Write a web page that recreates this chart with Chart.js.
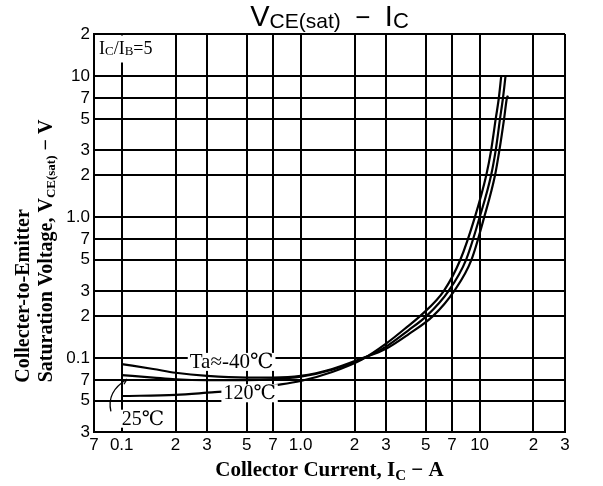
<!DOCTYPE html>
<html><head><meta charset="utf-8">
<script src="https://cdn.jsdelivr.net/npm/chart.js@4/dist/chart.umd.min.js"></script>
<style>html,body{margin:0;padding:0;background:#fff}canvas{display:block}</style>
</head><body>
<canvas id="c" width="603" height="486"></canvas>
<script>
// Tick values and labels
const xTickValues = [0.07,0.1,0.2,0.3,0.5,0.7,1,2,3,5,7,10,20,30];
const xTickLabels = ['7','0.1','2','3','5','7','1.0','2','3','5','7','10','2','3'];
const yTickValues = [0.03,0.05,0.07,0.1,0.2,0.3,0.5,0.7,1,2,3,5,7,10,20];
const yTickLabels = ['3','5','7','0.1','2','3','5','7','1.0','2','3','5','7','10','2'];

// Series: Ta = -40 C
const currentM40 = [0.1,0.15,0.2,0.3,0.5,0.7,1.0,1.5,2.2,3,4,5.5,7.2,9.0,10.6,12.2,12.9,13.7,14.2,14.4];
const vceM40     = [0.091,0.084,0.079,0.075,0.073,0.073,0.075,0.084,0.1,0.117,0.148,0.2,0.3,0.5,1.0,2,3,5,7,7.3];
// Series: Ta = 25 C
const current25 = [0.1,0.15,0.2,0.3,0.5,0.7,1.0,1.5,2.2,3,4,5.06,6.7,8.4,10,11.6,12.3,13.0,13.5,13.95];
const vce25     = [0.076,0.073,0.071,0.070,0.070,0.071,0.074,0.083,0.099,0.121,0.158,0.2,0.3,0.5,1.0,2,3,5,7,10];
// Series: Ta = 120 C
const current120 = [0.1,0.2,0.3,0.5,0.7,1.0,1.5,2.2,3,4,4.66,6.3,7.8,9.4,10.9,11.6,12.3,12.8,13.2];
const vce120     = [0.054,0.055,0.057,0.060,0.064,0.069,0.080,0.098,0.127,0.17,0.2,0.3,0.5,1.0,2,3,5,7,10];

const toXY = (xs, ys) => xs.map((x, i) => ({x, y: ys[i]}));

const serifB = 'bold {s}px "Liberation Serif", "DejaVu Serif", serif';
const sans = '{s}px "Liberation Sans", Arial, sans-serif';
const serif = '{s}px "Liberation Serif", "DejaVu Serif", serif';
const F = (tpl, s) => tpl.replace('{s}', s);

function richWidth(ctx, parts) {
  let w = 0;
  for (const p of parts) { ctx.font = p.f; w += ctx.measureText(p.t).width; }
  return w;
}
function drawRich(ctx, parts, x, y, align) {
  const w = richWidth(ctx, parts);
  let cx = align === 'center' ? x - w / 2 : (align === 'right' ? x - w : x);
  ctx.textAlign = 'left';
  for (const p of parts) {
    ctx.font = p.f;
    ctx.fillText(p.t, cx, y + (p.dy || 0));
    cx += ctx.measureText(p.t).width;
  }
  return w;
}

const annot = {
  id: 'annot',
  afterDraw(chart) {
    const ctx = chart.ctx, xs = chart.scales.x, ys = chart.scales.y, a = chart.chartArea;
    const X = v => xs.getPixelForValue(v), Y = v => ys.getPixelForValue(v);
    ctx.save();
    ctx.fillStyle = '#000';
    ctx.textBaseline = 'alphabetic';

    // Title
    drawRich(ctx, [
      {t: 'V', f: F(sans, 29)},
      {t: 'CE(sat)', f: F(sans, 21), dy: 2},
      {t: '  \u2212  ', f: F(sans, 26)},
      {t: 'I', f: F(sans, 29)},
      {t: 'C', f: F(sans, 22), dy: 2}
    ], (a.left + a.right) / 2, 26, 'center');

    // X axis title
    drawRich(ctx, [
      {t: 'Collector Current, I', f: F(serifB, 21)},
      {t: 'C', f: F(serifB, 15), dy: 4},
      {t: ' \u2212 A', f: F(serifB, 21)}
    ], (a.left + a.right) / 2, 476, 'center');

    // Y axis title (two rotated lines)
    ctx.save();
    ctx.translate(29, 296);
    ctx.rotate(-Math.PI / 2);
    drawRich(ctx, [{t: 'Collecter-to-Emitter', f: F(serifB, 20)}], 0, 0, 'center');
    ctx.restore();
    ctx.save();
    ctx.translate(52, 251);
    ctx.rotate(-Math.PI / 2);
    drawRich(ctx, [
      {t: 'Saturation Voltage, V', f: F(serifB, 20)},
      {t: 'CE(sat)', f: F(serifB, 13), dy: 3},
      {t: ' \u2212 V', f: F(serifB, 20)}
    ], 0, 0, 'center');
    ctx.restore();

    // IC/IB = 5 box
    ctx.fillStyle = '#fff';
    ctx.fillRect(a.left + 1.5, a.top + 1.5, X(0.168) - a.left - 1.5, 27);
    ctx.fillStyle = '#000';
    drawRich(ctx, [
      {t: 'I', f: F(serif, 18)}, {t: 'C', f: F(serif, 13), dy: 1},
      {t: '/I', f: F(serif, 18)}, {t: 'B', f: F(serif, 13), dy: 1},
      {t: '=5', f: F(serif, 18)}
    ], a.left + 5, a.top + 20, 'left');

    // Curve labels
    const lab = (parts, vx, vy) => {
      const w = richWidth(ctx, parts);
      const x = X(vx), y = Y(vy);
      ctx.fillStyle = '#fff';
      ctx.fillRect(x - 2, y - 15, w + 4, 18);
      ctx.fillStyle = '#000';
      drawRich(ctx, parts, x, y, 'left');
    };
    lab([{t: 'Ta\u2248-40\u2103', f: F(serif, 21)}], 0.24, 0.0855);
    lab([{t: '120\u2103', f: F(serif, 20)}], 0.37, 0.0512);
    lab([{t: '25\u2103', f: F(serif, 20)}], 0.1, 0.0338);

    // leader for 25C
    ctx.strokeStyle = '#000';
    ctx.lineWidth = 1.3;
    ctx.beginPath();
    ctx.moveTo(X(0.087), Y(0.042));
    ctx.quadraticCurveTo(X(0.082), Y(0.058), X(0.107), Y(0.071));
    ctx.stroke();
    ctx.beginPath();
    ctx.moveTo(X(0.107), Y(0.071));
    ctx.lineTo(X(0.107) - 6, Y(0.071) + 1);
    ctx.moveTo(X(0.107), Y(0.071));
    ctx.lineTo(X(0.107) - 3, Y(0.071) + 5);
    ctx.stroke();
    ctx.restore();
  }
};

const ds = (xs, ys) => ({
  data: toXY(xs, ys), showLine: true, borderColor: '#000', borderWidth: 2.2,
  pointRadius: 0, cubicInterpolationMode: 'monotone', fill: false
});

new Chart(document.getElementById('c'), {
  type: 'scatter',
  data: {datasets: [ds(currentM40, vceM40), ds(current25, vce25), ds(current120, vce120)]},
  options: {
    responsive: false, animation: false, devicePixelRatio: 1,
    layout: {padding: {top: 34, right: 38, left: 0, bottom: 0}},
    plugins: {legend: {display: false}, title: {display: false}, tooltip: {enabled: false}},
    scales: {
      x: {
        type: 'logarithmic', min: 0.07, max: 30, bounds: 'data',
        afterBuildTicks: s => { s.ticks = xTickValues.map(v => ({value: v})); },
        afterFit: s => { s.height = 54; },
        ticks: {autoSkip: false, maxRotation: 0, minRotation: 0, padding: 3, color: '#000',
          font: {family: '"Liberation Sans", Arial, sans-serif', size: 17},
          callback: (v, i) => xTickLabels[i]},
        grid: {color: '#000', lineWidth: 2, drawTicks: false},
        border: {color: '#000', width: 2}
      },
      y: {
        type: 'logarithmic', min: 0.03, max: 20, bounds: 'data',
        afterBuildTicks: s => { s.ticks = yTickValues.map(v => ({value: v})); },
        afterFit: s => { s.width = 94; },
        ticks: {autoSkip: false, padding: 4, color: '#000',
          font: {family: '"Liberation Sans", Arial, sans-serif', size: 17},
          callback: (v, i) => yTickLabels[i]},
        grid: {color: '#000', lineWidth: 2, drawTicks: false},
        border: {color: '#000', width: 2}
      }
    }
  },
  plugins: [annot]
});
</script>
</body></html>
